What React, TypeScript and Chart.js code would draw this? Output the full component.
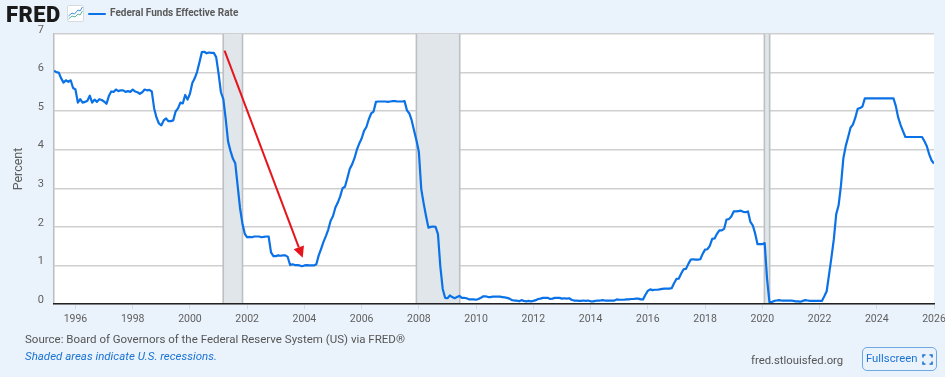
import React, { useEffect, useRef } from "react";
import { Chart, registerables } from "chart.js";

Chart.register(...registerables);

const START_YEAR = 1995;
const START_MONTH = 3; // April, zero-based
const rates1995 = [6.05, 6.01, 6.0, 5.85, 5.74, 5.8, 5.76, 5.8, 5.6];
const rates1996 = [5.56, 5.22, 5.31, 5.22, 5.24, 5.27, 5.4, 5.22, 5.3, 5.24, 5.31, 5.29];
const rates1997 = [5.25, 5.19, 5.39, 5.51, 5.5, 5.56, 5.52, 5.54, 5.54, 5.5, 5.52, 5.5];
const rates1998 = [5.56, 5.51, 5.49, 5.45, 5.49, 5.56, 5.54, 5.55, 5.51, 5.07, 4.83, 4.68];
const rates1999 = [4.63, 4.76, 4.81, 4.74, 4.74, 4.76, 4.99, 5.07, 5.22, 5.2, 5.42, 5.3];
const rates2000 = [5.45, 5.73, 5.85, 6.02, 6.27, 6.53, 6.54, 6.5, 6.52, 6.51, 6.51, 6.4];
const rates2001 = [5.98, 5.49, 5.31, 4.8, 4.21, 3.97, 3.77, 3.65, 3.07, 2.49, 2.09, 1.82];
const rates2002 = [1.73, 1.74, 1.73, 1.75, 1.75, 1.75, 1.73, 1.74, 1.75, 1.75, 1.34, 1.24];
const rates2003 = [1.24, 1.26, 1.25, 1.26, 1.26, 1.22, 1.01, 1.03, 1.01, 1.01, 1.0, 0.98];
const rates2004 = [1.0, 1.01, 1.0, 1.0, 1.0, 1.03, 1.26, 1.43, 1.61, 1.76, 1.93, 2.16];
const rates2005 = [2.28, 2.5, 2.63, 2.79, 3.0, 3.04, 3.26, 3.5, 3.62, 3.78, 4.0, 4.16];
const rates2006 = [4.29, 4.49, 4.59, 4.79, 4.94, 4.99, 5.24, 5.25, 5.25, 5.25, 5.25, 5.24];
const rates2007 = [5.25, 5.26, 5.26, 5.25, 5.25, 5.25, 5.26, 5.02, 4.94, 4.76, 4.49, 4.24];
const rates2008 = [3.94, 2.98, 2.61, 2.28, 1.98, 2.0, 2.01, 2.0, 1.81, 0.97, 0.39, 0.16];
const rates2009 = [0.15, 0.22, 0.18, 0.15, 0.18, 0.21, 0.16, 0.16, 0.15, 0.12, 0.12, 0.12];
const rates2010 = [0.11, 0.13, 0.16, 0.2, 0.2, 0.18, 0.18, 0.19, 0.19, 0.19, 0.19, 0.18];
const rates2011 = [0.17, 0.16, 0.14, 0.1, 0.09, 0.09, 0.07, 0.1, 0.08, 0.07, 0.08, 0.07];
const rates2012 = [0.08, 0.1, 0.13, 0.14, 0.16, 0.16, 0.16, 0.13, 0.14, 0.16, 0.16, 0.16];
const rates2013 = [0.14, 0.15, 0.14, 0.15, 0.11, 0.09, 0.09, 0.08, 0.08, 0.09, 0.08, 0.09];
const rates2014 = [0.07, 0.07, 0.08, 0.09, 0.09, 0.1, 0.09, 0.09, 0.09, 0.09, 0.09, 0.12];
const rates2015 = [0.11, 0.11, 0.11, 0.12, 0.12, 0.13, 0.13, 0.14, 0.14, 0.12, 0.12, 0.24];
const rates2016 = [0.34, 0.38, 0.36, 0.37, 0.37, 0.38, 0.39, 0.4, 0.4, 0.4, 0.41, 0.54];
const rates2017 = [0.65, 0.66, 0.79, 0.9, 0.91, 1.04, 1.15, 1.16, 1.15, 1.15, 1.16, 1.3];
const rates2018 = [1.41, 1.42, 1.51, 1.69, 1.7, 1.82, 1.91, 1.91, 1.95, 2.19, 2.2, 2.27];
const rates2019 = [2.4, 2.4, 2.41, 2.42, 2.39, 2.38, 2.4, 2.13, 2.04, 1.83, 1.55, 1.55];
const rates2020 = [1.55, 1.58, 0.65, 0.05, 0.05, 0.08, 0.09, 0.1, 0.09, 0.09, 0.09, 0.09];
const rates2021 = [0.09, 0.08, 0.07, 0.07, 0.06, 0.08, 0.1, 0.09, 0.08, 0.08, 0.08, 0.08];
const rates2022 = [0.08, 0.08, 0.2, 0.33, 0.77, 1.21, 1.68, 2.33, 2.56, 3.08, 3.78, 4.1];
const rates2023 = [4.33, 4.57, 4.65, 4.83, 5.06, 5.08, 5.12, 5.33, 5.33, 5.33, 5.33, 5.33];
const rates2024 = [5.33, 5.33, 5.33, 5.33, 5.33, 5.33, 5.33, 5.33, 5.13, 4.83, 4.64, 4.48];
const rates2025 = [4.33, 4.33, 4.33, 4.33, 4.33, 4.33, 4.33, 4.33, 4.22, 4.09, 3.88, 3.72];
const rates2026 = [3.64];

const monthlyRates = [
  ...rates1995, ...rates1996, ...rates1997, ...rates1998, ...rates1999, ...rates2000, ...rates2001,
  ...rates2002, ...rates2003, ...rates2004, ...rates2005, ...rates2006, ...rates2007, ...rates2008,
  ...rates2009, ...rates2010, ...rates2011, ...rates2012, ...rates2013, ...rates2014, ...rates2015,
  ...rates2016, ...rates2017, ...rates2018, ...rates2019, ...rates2020, ...rates2021, ...rates2022,
  ...rates2023, ...rates2024, ...rates2025, ...rates2026,
];

const recessionStarts = [2001.17, 2007.92, 2020.08];
const recessionEnds = [2001.83, 2009.42, 2020.25];
const arrowFrom = { x: 2001.21, y: 6.57 };
const arrowTo = { x: 2003.94, y: 1.2 };

const seriesLabel = "Federal Funds Effective Rate";
const sourceText = "Source: Board of Governors of the Federal Reserve System (US) via FRED®";
const shadedText = "Shaded areas indicate U.S. recessions.";
const siteText = "fred.stlouisfed.org";
const buttonText = "Fullscreen";

const FONT = "Roboto";
const BLUE = "#0A72E6";
const GREY = "#5f5f5f";

const backdrop = {
  id: "backdrop",
  beforeDraw(chart: any) {
    const { ctx, chartArea: a } = chart;
    ctx.save();
    ctx.fillStyle = "#ffffff";
    ctx.fillRect(a.left, a.top, a.right - a.left, a.bottom - a.top);
    ctx.restore();
  },
  beforeDatasetsDraw(chart: any) {
    const { ctx, chartArea: a, scales } = chart;
    ctx.save();
    recessionStarts.forEach((s, i) => {
      const x0 = scales.x.getPixelForValue(s);
      const x1 = scales.x.getPixelForValue(recessionEnds[i]);
      ctx.fillStyle = "#E1E6EB";
      ctx.fillRect(x0, a.top, x1 - x0, a.bottom - a.top);
      ctx.fillStyle = "#BDC0C3";
      ctx.fillRect(x0 - 1, a.top, 1.6, a.bottom - a.top);
      ctx.fillRect(x1 - 0.6, a.top, 1.6, a.bottom - a.top);
    });
    ctx.restore();
  },
  afterDatasetsDraw(chart: any) {
    const { ctx, scales } = chart;
    const x0 = scales.x.getPixelForValue(arrowFrom.x);
    const y0 = scales.y.getPixelForValue(arrowFrom.y);
    const x1 = scales.x.getPixelForValue(arrowTo.x);
    const y1 = scales.y.getPixelForValue(arrowTo.y);
    const ang = Math.atan2(y1 - y0, x1 - x0);
    const len = 11;
    const half = 5.5;
    const bx = x1 - len * Math.cos(ang);
    const by = y1 - len * Math.sin(ang);
    ctx.save();
    ctx.strokeStyle = "#E8141C";
    ctx.fillStyle = "#E8141C";
    ctx.lineWidth = 2;
    ctx.beginPath();
    ctx.moveTo(x0, y0);
    ctx.lineTo(bx, by);
    ctx.stroke();
    ctx.beginPath();
    ctx.moveTo(x1, y1);
    ctx.lineTo(bx - half * Math.sin(ang), by + half * Math.cos(ang));
    ctx.lineTo(bx + half * Math.sin(ang), by - half * Math.cos(ang));
    ctx.closePath();
    ctx.fill();
    ctx.restore();
  },
};

export default function App() {
  const ref = useRef<HTMLCanvasElement | null>(null);

  useEffect(() => {
    const points = monthlyRates.map((y, i) => ({
      x: START_YEAR + (START_MONTH + i) / 12,
      y,
    }));
    const chart = new Chart(ref.current as HTMLCanvasElement, {
      type: "line",
      data: {
        datasets: [
          {
            label: seriesLabel,
            data: points,
            borderColor: BLUE,
            backgroundColor: BLUE,
            borderWidth: 2.2,
            pointRadius: 0,
            tension: 0,
            borderJoinStyle: "round",
          },
        ],
      },
      plugins: [backdrop],
      options: {
        animation: false,
        responsive: false,
        parsing: false,
        layout: { padding: { top: 34, right: 11, left: 0, bottom: 0 } },
        plugins: { legend: { display: false }, tooltip: { enabled: false } },
        scales: {
          x: {
            type: "linear",
            min: 1995.25,
            max: 2026,
            afterFit(s: any) {
              s.height = 73;
              s.paddingRight = 0;
              s.paddingLeft = 0;
            },
            ticks: {
              stepSize: 2,
              includeBounds: false,
              autoSkip: false,
              maxRotation: 0,
              padding: 4,
              color: GREY,
              font: { family: FONT, size: 10.5 },
              callback: (v: any) => String(v),
            },
            border: { color: "#222222", width: 1.6, z: 2 },
            grid: { drawOnChartArea: false, drawTicks: true, tickLength: 5, color: "#D3DAE2", lineWidth: 1 },
          },
          y: {
            min: 0,
            max: 7,
            afterFit(s: any) {
              s.width = 54;
              s.paddingTop = 0;
              s.paddingBottom = 0;
            },
            title: {
              display: true,
              text: "Percent",
              color: GREY,
              font: { family: FONT, size: 12.5 },
              padding: { top: 11, bottom: 0 },
            },
            ticks: {
              stepSize: 1,
              padding: 10,
              labelOffset: -4,
              color: GREY,
              font: { family: FONT, size: 11 },
            },
            border: { color: "#BDBDBD", width: 1.5 },
            grid: { color: "#CFCFCF", lineWidth: 1.5, drawTicks: false },
          },
        },
      },
    } as any);
    return () => chart.destroy();
  }, []);

  const abs = (s: React.CSSProperties): React.CSSProperties => ({
    position: "absolute",
    whiteSpace: "nowrap",
    fontFamily: FONT,
    ...s,
  });

  return (
    <div style={{ position: "fixed", left: 0, top: 0, width: 945, height: 377, overflow: "hidden", background: "#EAF2FB" }}>
      <canvas ref={ref} width={945} height={377} style={{ position: "absolute", left: 0, top: 0, display: "block" }} />
      <div style={abs({ left: 6, top: 2, fontSize: 22, lineHeight: "26px", fontWeight: 900, color: "#1a1a1a", letterSpacing: 0.4 })}>FRED</div>
      <svg width={17} height={17} style={{ position: "absolute", left: 67, top: 5 }} viewBox="0 0 17 17">
        <rect x={0.5} y={0.5} width={16} height={16} rx={1.5} fill="#ffffff" stroke="#D5DBE0" />
        <polyline points="1.5,11 5,8 7.5,9 11,5 13,6 15.5,2" fill="none" stroke="#3E8FDB" strokeWidth={1} />
        <polyline points="1.5,14 5,11 8,12 11,9 13,10 15.5,6" fill="none" stroke="#57B59B" strokeWidth={1} />
      </svg>
      <div style={abs({ left: 88, top: 13, width: 18, height: 2, background: BLUE, borderRadius: 1 })} />
      <div style={abs({ left: 110, top: 6, fontSize: 10, lineHeight: "14px", fontWeight: 700, color: "#5a5a5a" })}>{seriesLabel}</div>
      <div style={abs({ left: 25, top: 332, fontSize: 11.5, lineHeight: "14px", color: "#555555" })}>{sourceText}</div>
      <div style={abs({ left: 25, top: 349, fontSize: 11.5, lineHeight: "14px", fontStyle: "italic", color: "#1B73D3" })}>{shadedText}</div>
      <div style={abs({ left: 751, top: 354, fontSize: 11.3, lineHeight: "14px", color: "#555555" })}>{siteText}</div>
      <div style={abs({ left: 862, top: 347, width: 75, height: 24, boxSizing: "border-box", border: "1px solid #6FA8E4", borderRadius: 5 })} />
      <div style={abs({ left: 866, top: 352, fontSize: 11.3, lineHeight: "14px", color: "#1B73D3" })}>{buttonText}</div>
      <svg width={11} height={11} style={{ position: "absolute", left: 922, top: 354 }} viewBox="0 0 11 11">
        <path d="M1 3.5V1H3.5M7.5 1H10V3.5M10 7.5V10H7.5M3.5 10H1V7.5" fill="none" stroke="#1B73D3" strokeWidth={1.6} />
      </svg>
    </div>
  );
}
